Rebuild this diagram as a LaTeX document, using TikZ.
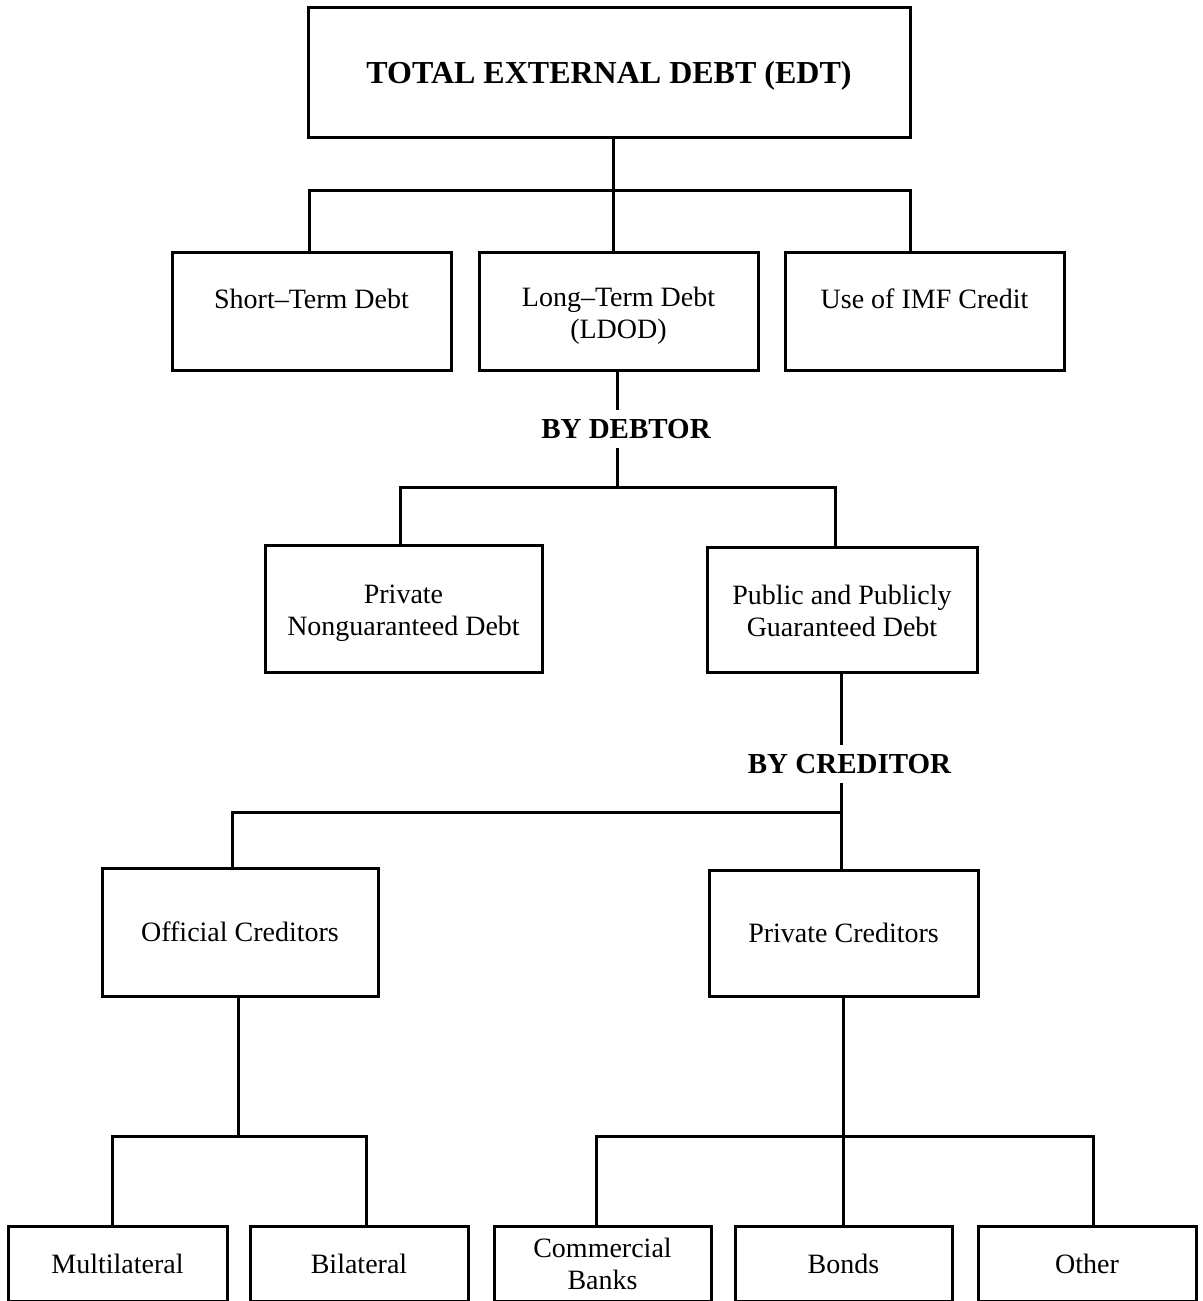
\documentclass[tikz,border=0pt]{standalone}
\usepackage{fontspec}
\setmainfont{Liberation Serif}
\begin{document}
\begin{tikzpicture}[x=1pt,y=1pt,yscale=-1,xscale=1,
  box/.style={draw,line width=3pt,align=center,inner sep=0pt,font=\fontsize{28}{32}\selectfont},
  titlebox/.style={box,text height=30pt,font=\fontsize{32}{36}\selectfont\bfseries},
  upper/.style={text depth=24pt},
  lower/.style={text height=#1},
  bylabel/.style={inner sep=9pt,font=\fontsize{29}{32}\selectfont\bfseries},
  conn/.style={line width=3pt}]
\useasboundingbox (0,0) rectangle (1202,1301);
\clip (0,0) rectangle (1202,1301);

% Boxes
\node[titlebox,minimum width=602pt,minimum height=130pt] (edt) at (609,72) {TOTAL EXTERNAL DEBT (EDT)};
\node[box,upper,minimum width=279pt,minimum height=118pt] (std) at (311.5,311) {Short--Term Debt};
\node[box,lower=60pt,minimum width=279pt,minimum height=118pt] (ltd) at (618.5,311) {Long--Term Debt\\(LDOD)};
\node[box,upper,minimum width=279pt,minimum height=118pt] (imf) at (924.5,311) {Use of IMF Credit};
\node[box,lower=60pt,minimum width=277pt,minimum height=127pt] (pnd) at (403.5,608.5) {Private\\Nonguaranteed Debt};
\node[box,lower=54pt,minimum width=270pt,minimum height=125pt] (ppg) at (842,609.5) {Public and Publicly\\Guaranteed Debt};
\node[box,minimum width=276pt,minimum height=128pt] (off) at (240,932) {Official Creditors};
\node[box,minimum width=269pt,minimum height=126pt] (prv) at (843.5,933) {Private Creditors};
\node[box,minimum width=219pt,minimum height=75pt] (multi) at (117.5,1263.5) {Multilateral};
\node[box,minimum width=218pt,minimum height=75pt] (bil) at (359,1263.5) {Bilateral};
\node[box,lower=53pt,minimum width=217pt,minimum height=75pt] (bank) at (602.5,1263.5) {Commercial\\Banks};
\node[box,minimum width=217pt,minimum height=75pt] (bond) at (843.5,1263.5) {Bonds};
\node[box,minimum width=218pt,minimum height=75pt] (other) at (1087,1263.5) {Other};

% Text Node
\node[bylabel] (debtor) at (626,429) {BY DEBTOR};
% Text Node
\node[bylabel] (creditor) at (849.5,764) {BY CREDITOR};

% bus points
\coordinate (t0) at (613,190);
\coordinate (t1) at (309,190);
\coordinate (t2) at (910,190);
\coordinate (d0) at (617,487);
\coordinate (d1) at (400,487);
\coordinate (d2) at (835,487);
\coordinate (c0) at (841,812);
\coordinate (c1) at (232,812);
\coordinate (o0) at (238,1136);
\coordinate (o1) at (112,1136);
\coordinate (o2) at (366,1136);
\coordinate (p0) at (843,1136);
\coordinate (p1) at (596,1136);
\coordinate (p2) at (1093,1136);

%Straight Lines
\draw[conn] (edt.south -| t0) -- (ltd.north -| t0);
\draw[conn] (std.north -| t1) -- (t1) -- (t2) -- (imf.north -| t2);
%Straight Lines
\draw[conn] (ltd.south -| d0) -- (debtor.north -| d0);
\draw[conn] (debtor.south -| d0) -- (d0);
\draw[conn] (pnd.north -| d1) -- (d1) -- (d2) -- (ppg.north -| d2);
%Straight Lines
\draw[conn] (ppg.south -| c0) -- (creditor.north -| c0);
\draw[conn] (creditor.south -| c0) -- (prv.north -| c0);
\draw[conn] (c0) -- (c1) -- (off.north -| c1);
%Straight Lines
\draw[conn] (off.south -| o0) -- (o0);
\draw[conn] (multi.north -| o1) -- (o1) -- (o2) -- (bil.north -| o2);
\draw[conn] (prv.south -| p0) -- (bond.north -| p0);
\draw[conn] (bank.north -| p1) -- (p1) -- (p2) -- (other.north -| p2);

\end{tikzpicture}
\end{document}
